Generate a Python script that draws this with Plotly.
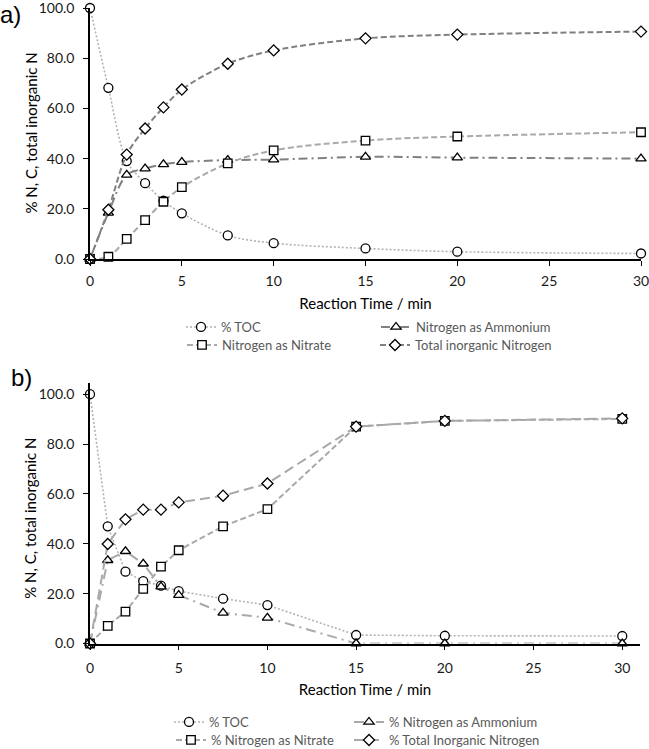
import plotly.graph_objects as go

# ---------------- data ----------------
time_min = [0, 1, 2, 3, 4, 5, 7.5, 10, 15, 20, 30]

# panel a
a_toc = [100.0, 68.2, 39.0, 30.2, 23.2, 18.2, 9.4, 6.3, 4.2, 2.9, 2.2]
a_ammonium = [0.0, 18.4, 33.5, 36.0, 37.7, 38.6, 39.4, 39.6, 40.7, 40.4, 40.0]
a_nitrate = [0.0, 0.9, 8.0, 15.5, 22.8, 28.6, 38.1, 43.3, 47.2, 48.8, 50.5]
a_total = [0.0, 19.6, 41.6, 52.0, 60.4, 67.5, 77.8, 83.1, 87.9, 89.4, 90.6]

# panel b
b_toc = [100.0, 47.0, 28.8, 25.0, 23.2, 21.0, 18.0, 15.4, 3.4, 3.1, 3.0]
b_ammonium = [0.0, 33.4, 37.0, 32.0, 22.8, 19.4, 12.3, 10.3, 0.0, 0.0, 0.0]
b_nitrate = [0.0, 7.1, 12.8, 21.9, 30.8, 37.4, 47.0, 53.9, 87.0, 89.3, 90.1]
b_total = [0.0, 39.9, 49.8, 53.7, 53.7, 56.6, 59.3, 64.2, 87.0, 89.3, 90.3]

a_names = ["% TOC", "Nitrogen as Ammonium", "Nitrogen as Nitrate", "Total inorganic Nitrogen"]
b_names = ["% TOC", "% Nitrogen as Ammonium", "% Nitrogen as Nitrate", "% Total Inorganic Nitrogen"]

y_ticks = [0, 20, 40, 60, 80, 100]
x_ticks = [0, 5, 10, 15, 20, 25, 30]
x_title = "Reaction Time / min"
y_title = "% N, C, total inorganic N"

# ---------------- styling ----------------
W, H = 649, 749
LIGHT = "#a9a9a9"
DARK = "#808080"
FONT = "Lato"

def px_x(p):
    return p / W

def px_y(p):
    return 1 - p / H

fig = go.Figure()

def add(x, y, name, xa, ya, color, dash, symbol, legend, width=2, shape="linear", size=9):
    fig.add_trace(go.Scatter(
        x=x, y=y, name=name, mode="lines+markers",
        xaxis=xa, yaxis=ya, legend=legend, cliponaxis=False,
        line=dict(color=color, dash=dash, width=width, shape=shape, smoothing=0.9),
        marker=dict(symbol=symbol, size=size, color="white",
                    line=dict(color="black", width=1.3)),
    ))

# panel a (smoothed lines)
add(time_min, a_toc, a_names[0], "x", "y", "#b3b3b3", "2px,2px", "circle", "legend", 1.6, "spline")
add(time_min, a_ammonium, a_names[1], "x", "y", DARK, "9px,4px,2px,4px", "triangle-up", "legend2", 2, "spline")
add(time_min, a_nitrate, a_names[2], "x", "y", LIGHT, "6px,3px", "square", "legend3", 2, "spline", 8.5)
add(time_min, a_total, a_names[3], "x", "y", DARK, "6px,3px", "diamond", "legend4", 2, "spline", 8.5)

# panel b (straight lines)
add(time_min, b_toc, b_names[0], "x2", "y2", "#b3b3b3", "2px,2px", "circle", "legend5", 1.6)
add(time_min, b_ammonium, b_names[1], "x2", "y2", LIGHT, "10px,5px,2px,5px", "triangle-up", "legend6", 2)
add(time_min, b_nitrate, b_names[2], "x2", "y2", LIGHT, "6px,3px", "square", "legend7", 2, "linear", 8.5)
add(time_min, b_total, b_names[3], "x2", "y2", LIGHT, "10px,5px", "diamond", "legend8", 2, "linear", 8.5)

axis_common = dict(
    showline=True, linecolor="black", linewidth=1.5,
    ticks="outside", ticklen=5, tickwidth=1.2, tickcolor="black",
    showgrid=False, zeroline=False, ticklabeloverflow="allow",
    tickfont=dict(family=FONT, size=14, color="#1a1a1a"),
)
title_font = dict(family=FONT, size=15, color="black")

A_TOP, A_BOT = 8, 259
B_TOP, B_BOT = 383, 643.5

fig.update_layout(
    width=W, height=H, autosize=False,
    margin=dict(l=0, r=0, t=0, b=0, autoexpand=False),
    paper_bgcolor="white", plot_bgcolor="white",
    xaxis=dict(axis_common, domain=[px_x(90), px_x(641)], range=[0, 30], tickvals=x_ticks,
               anchor="y", ticklabelstandoff=3,
               title=dict(text=x_title, font=title_font, standoff=11)),
    yaxis=dict(axis_common, domain=[px_y(A_BOT), px_y(A_TOP)], range=[0, 100], tickvals=y_ticks,
               tickformat=".1f", anchor="x", ticklabelstandoff=6),
    xaxis2=dict(axis_common, domain=[px_x(90), px_x(640)], range=[0, 31], tickvals=x_ticks,
                anchor="y2", ticklabelstandoff=6,
                title=dict(text=x_title, font=title_font, standoff=9)),
    yaxis2=dict(axis_common, domain=[px_y(B_BOT), px_y(B_TOP)], range=[0, 104.5],
                tickvals=y_ticks, tickformat=".1f", anchor="x2", ticklabelstandoff=6),
    showlegend=True,
)

# y-axis titles placed at fixed pixel positions
fig.add_annotation(x=px_x(30), y=px_y((A_TOP + A_BOT) / 2), xref="paper", yref="paper",
                   text=y_title, textangle=-90, showarrow=False,
                   xanchor="center", yanchor="middle", font=title_font)
fig.add_annotation(x=px_x(30), y=px_y((B_BOT + 394) / 2), xref="paper", yref="paper",
                   text=y_title, textangle=-90, showarrow=False,
                   xanchor="center", yanchor="middle", font=title_font)

leg_font = dict(family=FONT, size=13, color="#595959")
legend_pos = {
    "legend": (181, 327), "legend2": (376, 327),
    "legend3": (182, 345), "legend4": (375, 345),
    "legend5": (169, 722), "legend6": (349, 722),
    "legend7": (171, 740), "legend8": (349, 740),
}
for key, (lx, ly) in legend_pos.items():
    fig.update_layout({key: dict(x=px_x(lx), y=px_y(ly), xanchor="left", yanchor="middle",
                                 bgcolor="rgba(0,0,0,0)", font=leg_font, borderwidth=0,
                                 itemwidth=30)})

fig.add_annotation(x=px_x(-2), y=px_y(14), xref="paper", yref="paper", text="a)",
                   showarrow=False, xanchor="left", yanchor="middle",
                   font=dict(family="Liberation Sans", size=24, color="black"))
fig.add_annotation(x=px_x(9), y=px_y(378), xref="paper", yref="paper", text="b)",
                   showarrow=False, xanchor="left", yanchor="middle",
                   font=dict(family="Liberation Sans", size=24, color="black"))

fig.write_html("out.html")
